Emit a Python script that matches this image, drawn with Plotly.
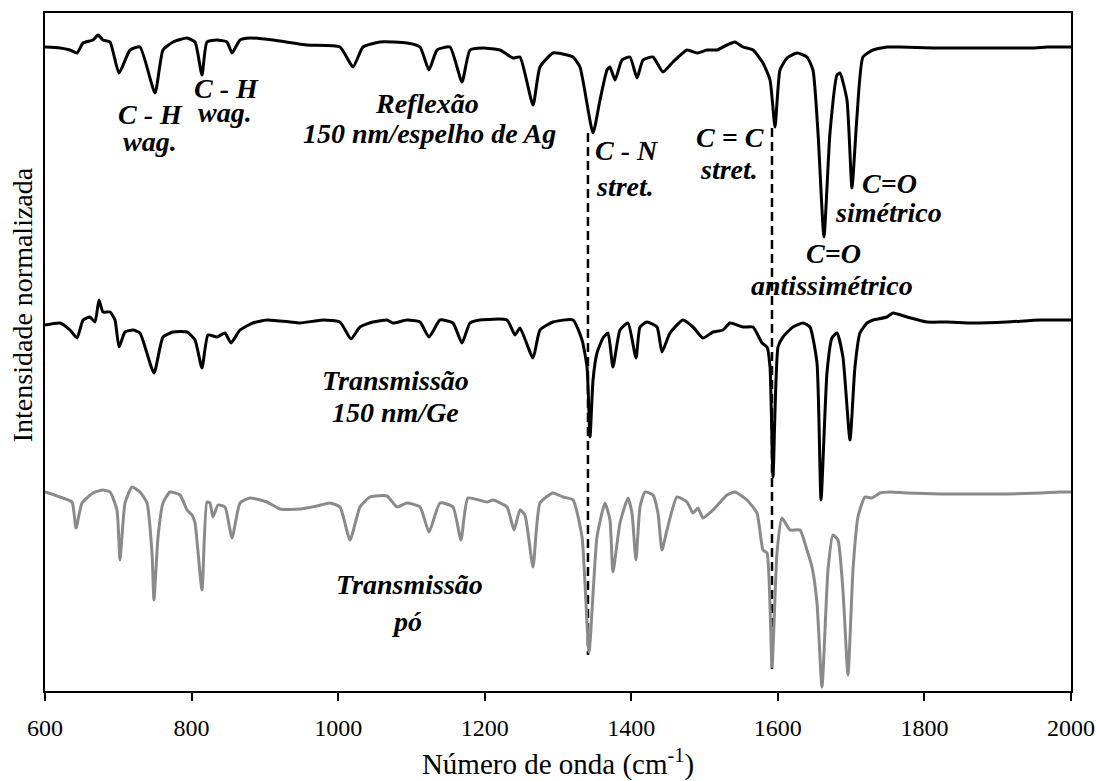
import plotly.graph_objects as go

# Wavenumber (cm-1) and normalized intensity (a.u., offset spectra)
refl_x = [600, 620.5, 634.1, 643.7, 651.9, 665.5, 672.3, 679.1, 688.7, 701.0, 716.0, 729.6, 750.1, 761.0,
          774.7, 793.8, 804.7, 814.2, 821.0, 834.7, 848.3, 855.2, 866.1, 879.7, 911.1, 957.5, 1002.5, 1020.3,
          1033.9, 1057.1, 1094.0, 1111.7, 1124.0, 1134.9, 1152.6, 1169.0, 1179.9, 1197.6, 1220.8, 1238.6,
          1248.1, 1265.9, 1275.4, 1293.2, 1312.3, 1320.5, 1330.0, 1347.8, 1357.3, 1366.9, 1370.9, 1377.8,
          1387.3, 1398.2, 1407.8, 1416.0, 1429.6, 1443.2, 1456.9, 1476.0, 1489.7, 1503.3, 1516.9, 1530.6,
          1541.5, 1552.4, 1566.1, 1579.7, 1589.3, 1596.1, 1602.9, 1612.5, 1626.1, 1639.7, 1647.9, 1654.8,
          1662.9, 1671.1, 1680.7, 1684.7, 1694.3, 1701.1, 1707.9, 1716.1, 1729.8, 1748.9, 1766.6, 1811.7,
          1858.1, 1903.1, 1948.1, 1967.2, 2000]
refl_y = [644, 643, 641, 638, 648, 651, 656, 651, 649, 618, 641, 644, 598, 641,
          649, 653, 649, 616, 649, 651, 649, 638, 651, 653, 651, 646, 644, 624,
          644, 649, 648, 644, 621, 641, 644, 609, 641, 643, 641, 633,
          634, 586, 624, 638, 636, 634, 624, 558, 591, 621, 624, 611,
          631, 634, 613, 631, 634, 619, 629, 641, 638, 641, 641, 646,
          649, 644, 641, 628, 611, 564, 621, 633, 638, 634, 621, 558,
          454, 558, 616, 618, 591, 503, 574, 634, 641, 644, 644, 643,
          643, 643, 643, 644, 644]

ge_x = [600, 620.5, 634.1, 643.7, 651.9, 661.4, 668.2, 673.7, 679.1, 688.7, 695.5, 701.0, 709.2, 720.1,
        729.6, 748.7, 761.0, 774.7, 793.8, 804.7, 814.2, 822.4, 834.7, 845.6, 853.8, 866.1, 883.8, 902.9,
        934.3, 948.0, 979.3, 1002.5, 1017.5, 1029.8, 1047.6, 1066.7, 1074.8, 1094.0, 1111.7, 1124.0,
        1139.0, 1156.7, 1169.0, 1179.9, 1193.6, 1230.4, 1241.3, 1248.1, 1265.9, 1275.4, 1293.2, 1320.5,
        1332.8, 1339.6, 1343.7, 1347.8, 1353.2, 1361.4, 1368.2, 1375.0, 1384.6, 1395.5, 1406.4, 1411.9,
        1421.4, 1435.1, 1441.9, 1452.8, 1470.5, 1484.2, 1497.8, 1511.5, 1525.1, 1534.7, 1552.4, 1566.1,
        1578.4, 1585.2, 1589.3, 1593.4, 1600.2, 1607.0, 1620.6, 1634.3, 1643.8, 1653.4, 1658.9, 1667.0,
        1673.8, 1680.7, 1688.8, 1698.4, 1705.2, 1712.0, 1721.6, 1729.8, 1748.9, 1757.1, 1776.2, 1803.5,
        1830.8, 1866.3, 1912.6, 1957.7, 2000]
ge_y = [366, 368, 361, 353, 371, 374, 369, 391, 379, 379, 371, 344, 359, 361,
        358, 318, 354, 359, 359, 351, 323, 356, 354, 358, 348, 361, 368, 371,
        369, 368, 371, 369, 352, 364, 369, 371, 368, 371, 369, 354,
        371, 368, 348, 368, 371, 371, 356, 363, 333, 361, 369, 371,
        351, 324, 254, 311, 338, 353, 358, 324, 361, 368, 333, 364,
        369, 364, 339, 358, 371, 364, 353, 359, 361, 368, 364, 364,
        348, 344, 324, 214, 344, 354, 364, 368, 364, 328, 191, 318,
        353, 358, 334, 251, 324, 358, 368, 371, 374, 378, 374, 369,
        369, 368, 369, 371, 371]

po_x = [600, 620.5, 636.8, 642.3, 650.5, 665.5, 679.1, 688.7, 698.2, 702.3, 709.2, 718.7, 729.6, 739.2,
        746.0, 748.7, 754.2, 761.0, 770.6, 784.2, 793.8, 800.6, 804.7, 814.2, 821.0, 825.1, 829.2, 836.1,
        845.6, 855.2, 866.1, 879.7, 902.9, 920.7, 948.0, 971.1, 988.9, 1002.5, 1016.2, 1029.8, 1043.5,
        1066.7, 1080.3, 1094.0, 1111.7, 1124.0, 1139.0, 1156.7, 1167.6, 1177.2, 1203.1, 1211.3, 1230.4,
        1240.0, 1248.1, 1254.9, 1265.9, 1275.4, 1293.2, 1306.8, 1320.5, 1332.8, 1342.3, 1353.2, 1364.1,
        1370.9, 1375.0, 1384.6, 1395.5, 1400.9, 1406.4, 1411.9, 1418.7, 1429.6, 1436.4, 1441.9, 1448.7,
        1462.4, 1476.0, 1484.2, 1491.0, 1497.8, 1511.5, 1530.6, 1541.5, 1557.9, 1571.5, 1579.7, 1585.2,
        1592.0, 1598.8, 1605.6, 1616.6, 1630.2, 1639.7, 1646.6, 1653.4, 1660.2, 1668.4, 1675.2, 1682.0,
        1688.8, 1695.7, 1702.5, 1709.3, 1718.9, 1728.4, 1739.3, 1753.0, 1776.2, 1821.2, 1866.3, 1912.6,
        1957.7, 1985.0, 2000]
po_y = [199, 194, 189, 163, 188, 198, 201, 199, 181, 131, 188, 204, 199, 188,
        138, 91, 154, 188, 199, 196, 181, 176, 168, 101, 189, 188, 174, 186,
        184, 153, 188, 193, 189, 182, 182, 185, 188, 184, 151, 184, 194,
        195, 184, 188, 184, 159, 188, 184, 151, 193, 189, 191, 184,
        161, 181, 176, 124, 188, 198, 194, 191, 154, 39, 154, 188,
        171, 119, 168, 193, 178, 131, 184, 199, 196, 178, 141, 161,
        194, 189, 178, 183, 173, 181, 196, 199, 191, 178, 141, 138,
        24, 138, 173, 161, 161, 141, 124, 88, 4, 121, 156, 151,
        101, 16, 121, 174, 194, 193, 198, 199, 198, 197, 197, 197,
        198, 199, 199]

# Guide lines (C-N and C=C bands)
guide_x = [1340.9, 1592.0]
guide_top = [558, 563]
guide_bottom = [36, 19]

tick_vals = [600, 800, 1000, 1200, 1400, 1600, 1800, 2000]

# Labels: (text, wavenumber, intensity)
labels = [
    ("C - H", 743.3, 577), ("wag.", 743.3, 550),
    ("C - H", 848.3, 603), ("wag.", 845.6, 579),
    ("Reflexão", 1121.2, 588), ("150 nm/espelho de Ag", 1124.0, 558),
    ("C - N", 1394.1, 541), ("stret.", 1391.4, 505),
    ("C = C", 1534.7, 554), ("stret.", 1533.3, 522),
    ("C=O", 1753.0, 508), ("simétrico", 1751.6, 479),
    ("C=O", 1676.6, 438), ("antissimétrico", 1673.9, 406),
    ("Transmissão", 1077.6, 311), ("150 nm/Ge", 1077.6, 279),
    ("Transmissão", 1098.0, 107), ("pó", 1093.9, 70),
]

FONT = "Liberation Serif"

fig = go.Figure()
for gx, gt, gb in zip(guide_x, guide_top, guide_bottom):
    fig.add_trace(go.Scatter(x=[gx, gx], y=[gt, gb], mode="lines",
                             line=dict(color="black", width=2.5, dash="9px,5px"),
                             showlegend=False, hoverinfo="skip"))
fig.add_trace(go.Scatter(x=po_x, y=po_y, mode="lines",
                         line=dict(color="#8a8a8a", width=3, shape="spline", smoothing=0.5),
                         showlegend=False))
fig.add_trace(go.Scatter(x=ge_x, y=ge_y, mode="lines",
                         line=dict(color="black", width=3, shape="spline", smoothing=0.5),
                         showlegend=False))
fig.add_trace(go.Scatter(x=refl_x, y=refl_y, mode="lines",
                         line=dict(color="black", width=3, shape="spline", smoothing=0.5),
                         showlegend=False))

for text, lx, ly in labels:
    fig.add_annotation(x=lx, y=ly, xref="x", yref="y", text=text,
                       showarrow=False,
                       font=dict(family=FONT, size=28, color="black", weight="bold", style="italic"),
                       xanchor="center", yanchor="middle")

# y-axis title as rotated text
fig.add_annotation(x=-0.0224, y=0.569, xref="paper", yref="paper", text="Intensidade normalizada",
                   textangle=-90, showarrow=False, xanchor="center", yanchor="middle",
                   font=dict(family=FONT, size=28, color="black"))

fig.update_layout(
    width=1096, height=781,
    margin=dict(l=45, r=25, t=13, b=90),
    paper_bgcolor="white", plot_bgcolor="white",
    font=dict(family=FONT, color="black"),
    xaxis=dict(range=[600, 2000], tickvals=tick_vals, ticks="outside", ticklen=8, tickwidth=2,
               tickcolor="black", showline=True, linewidth=2, linecolor="black", mirror=True,
               showgrid=False, zeroline=False, ticklabeloverflow="allow", automargin=False,
               ticklabelstandoff=6,
               tickfont=dict(family=FONT, size=24, color="black"),
               title=dict(text="Número de onda (cm<sup>-1</sup>)", font=dict(family=FONT, size=29),
                          standoff=20)),
    yaxis=dict(range=[0, 678], showticklabels=False, ticks="", showline=True, linewidth=2,
               linecolor="black", mirror=True, showgrid=False, zeroline=False, automargin=False),
)

fig.write_html("out.html")
